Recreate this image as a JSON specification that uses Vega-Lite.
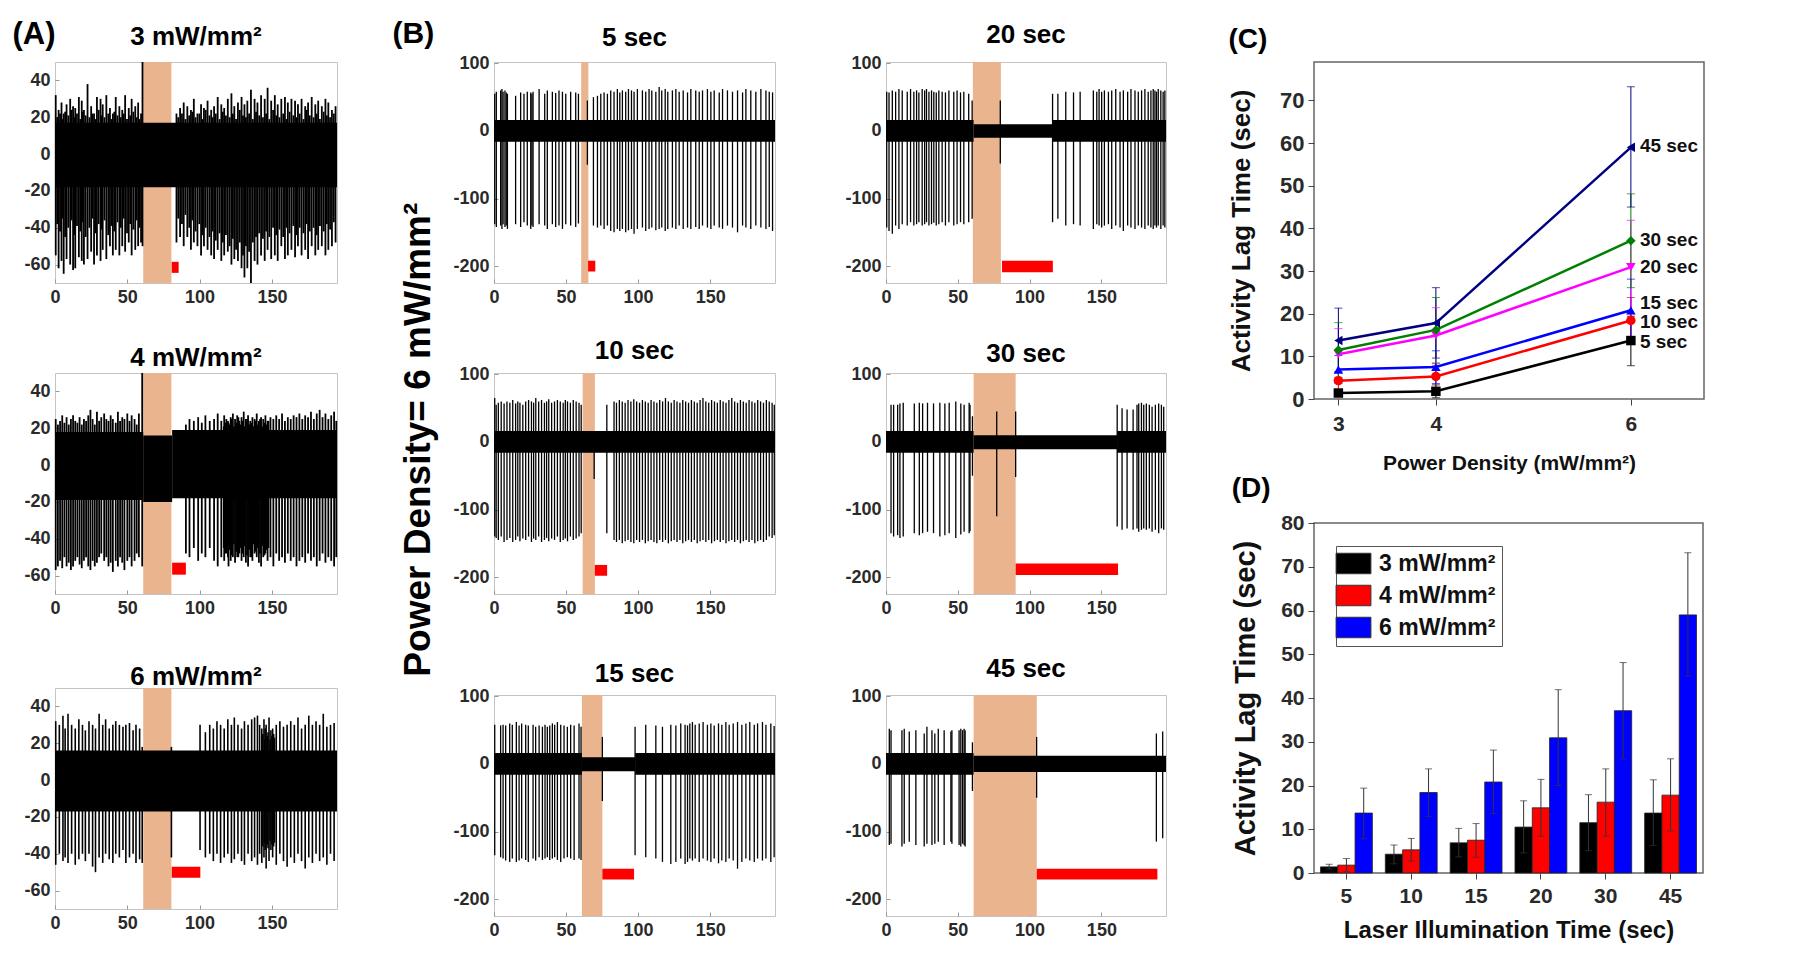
{
"$schema": "https://vega.github.io/schema/vega-lite/v6.json",
"background": "white",
"padding": {"left": 12, "top": 18, "right": 2, "bottom": 2},
"datasets": {
"lag": [
{"power":3,"dur":5,"lag":1.4,"lo":0.9,"hi":2.0},
{"power":4,"dur":5,"lag":1.8,"lo":0.3,"hi":3.3},
{"power":6,"dur":5,"lag":13.7,"lo":7.8,"hi":19.4},
{"power":3,"dur":10,"lag":4.3,"lo":2.1,"hi":6.4},
{"power":4,"dur":10,"lag":5.3,"lo":2.7,"hi":7.9},
{"power":6,"dur":10,"lag":18.4,"lo":12.9,"hi":23.8},
{"power":3,"dur":15,"lag":6.9,"lo":3.7,"hi":10.2},
{"power":4,"dur":15,"lag":7.5,"lo":3.6,"hi":11.3},
{"power":6,"dur":15,"lag":20.8,"lo":13.6,"hi":28.1},
{"power":3,"dur":20,"lag":10.5,"lo":4.6,"hi":16.5},
{"power":4,"dur":20,"lag":14.9,"lo":8.4,"hi":21.4},
{"power":6,"dur":20,"lag":30.9,"lo":20.0,"hi":41.9},
{"power":3,"dur":30,"lag":11.5,"lo":5.1,"hi":17.9},
{"power":4,"dur":30,"lag":16.2,"lo":8.4,"hi":23.8},
{"power":6,"dur":30,"lag":37.1,"lo":26.1,"hi":48.1},
{"power":3,"dur":45,"lag":13.7,"lo":6.3,"hi":21.3},
{"power":4,"dur":45,"lag":17.8,"lo":9.6,"hi":26.1},
{"power":6,"dur":45,"lag":59.0,"lo":45.0,"hi":73.2}
],
"clab": [
{"txt":"45 sec","px":6,"val":59.2},{"txt":"30 sec","px":6,"val":37.3},{"txt":"20 sec","px":6,"val":30.9},
{"txt":"15 sec","px":6,"val":22.6},{"txt":"10 sec","px":6,"val":18.1},{"txt":"5 sec","px":6,"val":13.4}
],
"s_a3": [
{"t":0.5,"lo":-55,"hi":32},{"t":2.5,"lo":-62,"hi":24},{"t":4.5,"lo":-58,"hi":28},{"t":6,"lo":-65,"hi":22},{"t":8,"lo":-57,"hi":27},{"t":10.5,"lo":-60,"hi":30},{"t":12.5,"lo":-63,"hi":26},{"t":14,"lo":-62,"hi":25},{"t":16.5,"lo":-56,"hi":31},{"t":18.5,"lo":-58,"hi":29},{"t":20,"lo":-60,"hi":24},{"t":22.5,"lo":-57,"hi":38},{"t":25,"lo":-53,"hi":26},{"t":27,"lo":-60,"hi":22},{"t":29,"lo":-55,"hi":31},{"t":31.5,"lo":-58,"hi":30},{"t":33,"lo":-52,"hi":27},{"t":35.5,"lo":-57,"hi":32},{"t":38,"lo":-50,"hi":25},{"t":40,"lo":-55,"hi":22},{"t":42,"lo":-52,"hi":31},{"t":44.5,"lo":-55,"hi":26},{"t":46.5,"lo":-50,"hi":24},{"t":48.5,"lo":-53,"hi":32},{"t":51,"lo":-48,"hi":25},{"t":53,"lo":-55,"hi":30},{"t":55.5,"lo":-52,"hi":26},{"t":57.5,"lo":-50,"hi":28},{"t":59.5,"lo":-48,"hi":22},{"t":60.5,"lo":-50,"hi":50},
{"t":1.5,"lo":-38,"hi":20},{"t":3.5,"lo":-42,"hi":22},{"t":5.2,"lo":-35,"hi":19},{"t":7,"lo":-45,"hi":23},{"t":9.2,"lo":-40,"hi":21},{"t":11.5,"lo":-36,"hi":24},{"t":13.2,"lo":-44,"hi":20},{"t":15.2,"lo":-39,"hi":22},{"t":17.5,"lo":-42,"hi":19},{"t":19.2,"lo":-37,"hi":23},{"t":21.2,"lo":-45,"hi":21},{"t":23.8,"lo":-40,"hi":20},{"t":26,"lo":-35,"hi":22},{"t":28,"lo":-43,"hi":19},{"t":30.2,"lo":-38,"hi":24},{"t":32.2,"lo":-41,"hi":21},{"t":34.2,"lo":-36,"hi":20},{"t":36.8,"lo":-44,"hi":22},{"t":39,"lo":-39,"hi":19},{"t":41,"lo":-42,"hi":23},{"t":43.2,"lo":-37,"hi":21},{"t":45.5,"lo":-40,"hi":20},{"t":47.5,"lo":-35,"hi":22},{"t":49.8,"lo":-43,"hi":19},{"t":52,"lo":-38,"hi":21},{"t":54.2,"lo":-41,"hi":23},{"t":56.5,"lo":-36,"hi":20},{"t":58.5,"lo":-40,"hi":19},
{"t":84,"lo":-48,"hi":22},{"t":86.5,"lo":-45,"hi":25},{"t":89,"lo":-50,"hi":28},{"t":91.5,"lo":-45,"hi":26},{"t":94,"lo":-52,"hi":24},{"t":96,"lo":-48,"hi":30},{"t":98.5,"lo":-50,"hi":22},{"t":101,"lo":-55,"hi":27},{"t":103,"lo":-50,"hi":25},{"t":105.5,"lo":-52,"hi":29},{"t":108,"lo":-55,"hi":24},{"t":110,"lo":-57,"hi":26},{"t":112.5,"lo":-52,"hi":31},{"t":115,"lo":-58,"hi":27},{"t":117,"lo":-55,"hi":25},{"t":119.5,"lo":-53,"hi":30},{"t":122,"lo":-60,"hi":33},{"t":124,"lo":-57,"hi":26},{"t":126.5,"lo":-58,"hi":28},{"t":129,"lo":-62,"hi":31},{"t":131,"lo":-67,"hi":27},{"t":133,"lo":-62,"hi":29},{"t":135.5,"lo":-70,"hi":35},{"t":138,"lo":-58,"hi":30},{"t":140,"lo":-60,"hi":28},{"t":142.5,"lo":-55,"hi":32},{"t":145,"lo":-58,"hi":30},{"t":147,"lo":-52,"hi":36},{"t":149.5,"lo":-57,"hi":29},{"t":152,"lo":-55,"hi":32},{"t":154,"lo":-58,"hi":27},{"t":156.5,"lo":-50,"hi":30},{"t":159,"lo":-57,"hi":31},{"t":161,"lo":-55,"hi":28},{"t":163.5,"lo":-52,"hi":30},{"t":166,"lo":-56,"hi":29},{"t":168,"lo":-50,"hi":27},{"t":170.5,"lo":-55,"hi":30},{"t":173,"lo":-52,"hi":26},{"t":175,"lo":-57,"hi":28},{"t":177.5,"lo":-50,"hi":31},{"t":180,"lo":-55,"hi":27},{"t":182,"lo":-52,"hi":29},{"t":184.5,"lo":-50,"hi":26},{"t":187,"lo":-55,"hi":30},{"t":189,"lo":-52,"hi":28},{"t":191.5,"lo":-50,"hi":24},{"t":194,"lo":-48,"hi":26},
{"t":85.2,"lo":-35,"hi":20},{"t":87.8,"lo":-38,"hi":22},{"t":90.2,"lo":-33,"hi":19},{"t":92.8,"lo":-40,"hi":21},{"t":95,"lo":-36,"hi":23},{"t":97.2,"lo":-42,"hi":20},{"t":99.8,"lo":-38,"hi":22},{"t":102,"lo":-44,"hi":19},{"t":104.2,"lo":-40,"hi":24},{"t":106.8,"lo":-45,"hi":21},{"t":109,"lo":-42,"hi":20},{"t":111.2,"lo":-47,"hi":22},{"t":113.8,"lo":-43,"hi":19},{"t":116,"lo":-48,"hi":23},{"t":118.2,"lo":-44,"hi":21},{"t":120.8,"lo":-50,"hi":20},{"t":123,"lo":-46,"hi":22},{"t":125.2,"lo":-52,"hi":19},{"t":127.8,"lo":-48,"hi":24},{"t":130,"lo":-55,"hi":21},{"t":132,"lo":-50,"hi":20},{"t":134.2,"lo":-53,"hi":22},{"t":136.8,"lo":-48,"hi":19},{"t":139,"lo":-45,"hi":23},{"t":141.2,"lo":-43,"hi":21},{"t":143.8,"lo":-46,"hi":20},{"t":146,"lo":-42,"hi":22},{"t":148.2,"lo":-45,"hi":19},{"t":150.8,"lo":-40,"hi":24},{"t":153,"lo":-44,"hi":21},{"t":155.2,"lo":-41,"hi":20},{"t":157.8,"lo":-45,"hi":22},{"t":160,"lo":-40,"hi":19},{"t":162.2,"lo":-43,"hi":23},{"t":164.8,"lo":-39,"hi":21},{"t":167,"lo":-44,"hi":20},{"t":169.2,"lo":-40,"hi":22},{"t":171.8,"lo":-43,"hi":19},{"t":174,"lo":-38,"hi":24},{"t":176.2,"lo":-42,"hi":21},{"t":178.8,"lo":-40,"hi":20},{"t":181,"lo":-44,"hi":22},{"t":183.2,"lo":-39,"hi":19},{"t":185.8,"lo":-42,"hi":23},{"t":188,"lo":-38,"hi":21},{"t":190.2,"lo":-41,"hi":20},{"t":192.8,"lo":-37,"hi":22}
],
"s_a4": [
{"t":0.5,"lo":-57,"hi":25},{"t":2,"lo":-55,"hi":22},{"t":3.5,"lo":-52,"hi":24},{"t":5,"lo":-56,"hi":27},{"t":6.5,"lo":-50,"hi":23},{"t":8,"lo":-55,"hi":26},{"t":9.5,"lo":-53,"hi":22},{"t":11,"lo":-57,"hi":25},{"t":12.5,"lo":-55,"hi":27},{"t":14,"lo":-52,"hi":24},{"t":15.5,"lo":-50,"hi":23},{"t":17,"lo":-54,"hi":26},{"t":18.5,"lo":-56,"hi":22},{"t":20,"lo":-52,"hi":25},{"t":21.5,"lo":-50,"hi":24},{"t":23,"lo":-55,"hi":27},{"t":24.5,"lo":-57,"hi":30},{"t":26,"lo":-52,"hi":25},{"t":27.5,"lo":-55,"hi":22},{"t":29,"lo":-53,"hi":29},{"t":30.5,"lo":-50,"hi":24},{"t":32,"lo":-48,"hi":26},{"t":34,"lo":-52,"hi":28},{"t":35.5,"lo":-50,"hi":25},{"t":37,"lo":-55,"hi":24},{"t":38.5,"lo":-53,"hi":27},{"t":40,"lo":-58,"hi":25},{"t":42,"lo":-52,"hi":23},{"t":43.5,"lo":-55,"hi":29},{"t":45,"lo":-50,"hi":24},{"t":46.5,"lo":-53,"hi":26},{"t":48,"lo":-57,"hi":25},{"t":50,"lo":-52,"hi":28},{"t":51.5,"lo":-50,"hi":24},{"t":53,"lo":-55,"hi":27},{"t":55,"lo":-52,"hi":25},{"t":56.5,"lo":-48,"hi":22},{"t":58,"lo":-50,"hi":28},{"t":60.3,"lo":-55,"hi":50},
{"t":90.5,"lo":-48,"hi":22},{"t":93,"lo":-50,"hi":25},{"t":96,"lo":-45,"hi":24},{"t":99,"lo":-52,"hi":26},{"t":101.5,"lo":-48,"hi":23},{"t":104,"lo":-50,"hi":27},{"t":107,"lo":-45,"hi":24},{"t":110,"lo":-52,"hi":25},{"t":112.5,"lo":-55,"hi":28},{"t":115,"lo":-50,"hi":24},{"t":117,"lo":-52,"hi":27},{"t":118.5,"lo":-48,"hi":25},{"t":120,"lo":-55,"hi":23},{"t":121.5,"lo":-52,"hi":26},{"t":123,"lo":-50,"hi":28},{"t":124.5,"lo":-53,"hi":25},{"t":126,"lo":-50,"hi":27},{"t":127.5,"lo":-48,"hi":24},{"t":129,"lo":-52,"hi":26},{"t":130.5,"lo":-50,"hi":29},{"t":132,"lo":-53,"hi":25},{"t":133.5,"lo":-55,"hi":27},{"t":135,"lo":-50,"hi":24},{"t":136.5,"lo":-52,"hi":26},{"t":138,"lo":-48,"hi":25},{"t":139.5,"lo":-50,"hi":28},{"t":141,"lo":-53,"hi":24},{"t":142.5,"lo":-55,"hi":26},{"t":144,"lo":-50,"hi":25},{"t":145.5,"lo":-48,"hi":27},{"t":147,"lo":-52,"hi":24},{"t":149,"lo":-50,"hi":26},{"t":151,"lo":-55,"hi":25},{"t":153,"lo":-48,"hi":27},{"t":155,"lo":-52,"hi":25},{"t":157,"lo":-50,"hi":28},{"t":159,"lo":-53,"hi":24},{"t":161,"lo":-48,"hi":26},{"t":163,"lo":-52,"hi":25},{"t":165,"lo":-50,"hi":27},{"t":167,"lo":-55,"hi":26},{"t":169,"lo":-52,"hi":28},{"t":171,"lo":-50,"hi":25},{"t":173,"lo":-53,"hi":27},{"t":175,"lo":-48,"hi":26},{"t":177,"lo":-52,"hi":29},{"t":179,"lo":-50,"hi":25},{"t":181,"lo":-55,"hi":28},{"t":183,"lo":-52,"hi":30},{"t":185,"lo":-48,"hi":26},{"t":187,"lo":-53,"hi":28},{"t":189,"lo":-50,"hi":25},{"t":191,"lo":-52,"hi":27},{"t":193,"lo":-55,"hi":29},{"t":194.5,"lo":-50,"hi":24},
{"t":116.7,"lo":-45,"hi":21},{"t":117.7,"lo":-48,"hi":23},{"t":118.9,"lo":-44,"hi":20},{"t":119.6,"lo":-50,"hi":24},{"t":120.8,"lo":-46,"hi":22},{"t":122.2,"lo":-49,"hi":25},{"t":123.8,"lo":-43,"hi":21},{"t":125.2,"lo":-47,"hi":23},{"t":126.8,"lo":-50,"hi":26},{"t":128.2,"lo":-45,"hi":22},{"t":129.8,"lo":-48,"hi":24},{"t":131.2,"lo":-44,"hi":21},{"t":132.8,"lo":-49,"hi":25},{"t":134.2,"lo":-46,"hi":22},{"t":135.8,"lo":-50,"hi":23},{"t":137.2,"lo":-43,"hi":21},{"t":138.8,"lo":-47,"hi":24},{"t":140.2,"lo":-45,"hi":22},{"t":141.8,"lo":-48,"hi":25},{"t":143.2,"lo":-44,"hi":21},{"t":144.8,"lo":-49,"hi":23},{"t":146.2,"lo":-46,"hi":22},{"t":147.6,"lo":-45,"hi":24}
],
"s_a6": [
{"t":0.5,"lo":-46,"hi":32},{"t":3,"lo":-40,"hi":30},{"t":5.5,"lo":-44,"hi":35},{"t":7,"lo":-42,"hi":28},{"t":9,"lo":-45,"hi":36},{"t":11.5,"lo":-40,"hi":30},{"t":14,"lo":-46,"hi":28},{"t":16.5,"lo":-43,"hi":33},{"t":19,"lo":-40,"hi":30},{"t":21,"lo":-44,"hi":27},{"t":23.5,"lo":-40,"hi":32},{"t":26,"lo":-47,"hi":30},{"t":28,"lo":-50,"hi":28},{"t":30.5,"lo":-42,"hi":36},{"t":33,"lo":-45,"hi":30},{"t":35,"lo":-40,"hi":33},{"t":37.5,"lo":-43,"hi":28},{"t":40,"lo":-45,"hi":30},{"t":42,"lo":-40,"hi":32},{"t":44.5,"lo":-42,"hi":30},{"t":47,"lo":-38,"hi":29},{"t":49,"lo":-45,"hi":30},{"t":51.5,"lo":-42,"hi":31},{"t":54,"lo":-40,"hi":27},{"t":56,"lo":-45,"hi":30},{"t":58.5,"lo":-43,"hi":28},{"t":60.3,"lo":-45,"hi":18},{"t":80.5,"lo":-42,"hi":18},
{"t":100.3,"lo":-38,"hi":30},{"t":104,"lo":-42,"hi":26},{"t":107,"lo":-40,"hi":30},{"t":109.5,"lo":-44,"hi":28},{"t":112,"lo":-40,"hi":32},{"t":114.5,"lo":-45,"hi":30},{"t":117,"lo":-42,"hi":28},{"t":119.5,"lo":-40,"hi":33},{"t":122,"lo":-45,"hi":30},{"t":124,"lo":-43,"hi":34},{"t":126.5,"lo":-40,"hi":30},{"t":129,"lo":-44,"hi":28},{"t":131,"lo":-46,"hi":32},{"t":133.5,"lo":-40,"hi":30},{"t":136,"lo":-44,"hi":33},{"t":138,"lo":-42,"hi":34},{"t":140,"lo":-46,"hi":35},{"t":141.5,"lo":-40,"hi":30},{"t":143,"lo":-45,"hi":28},{"t":144.5,"lo":-42,"hi":33},{"t":146,"lo":-48,"hi":30},{"t":148,"lo":-44,"hi":34},{"t":150.5,"lo":-42,"hi":28},{"t":153,"lo":-46,"hi":30},{"t":155.5,"lo":-40,"hi":32},{"t":158,"lo":-44,"hi":29},{"t":160.5,"lo":-47,"hi":30},{"t":163,"lo":-42,"hi":32},{"t":165.5,"lo":-45,"hi":30},{"t":168,"lo":-40,"hi":34},{"t":170.5,"lo":-44,"hi":28},{"t":173,"lo":-48,"hi":30},{"t":175.5,"lo":-42,"hi":35},{"t":178,"lo":-45,"hi":30},{"t":180.5,"lo":-40,"hi":32},{"t":183,"lo":-44,"hi":30},{"t":185.5,"lo":-42,"hi":36},{"t":188,"lo":-46,"hi":29},{"t":190.5,"lo":-40,"hi":30},{"t":193,"lo":-44,"hi":31},
{"t":143.7,"lo":-36,"hi":25},{"t":144.9,"lo":-34,"hi":22},{"t":145.3,"lo":-38,"hi":28},{"t":146.7,"lo":-35,"hi":24},{"t":147.3,"lo":-37,"hi":26},{"t":148.7,"lo":-33,"hi":22},{"t":149.3,"lo":-38,"hi":27},{"t":150,"lo":-35,"hi":24},{"t":151.2,"lo":-36,"hi":25},{"t":151.8,"lo":-34,"hi":23}
],
"s_b5": [
{"t":0.5,"lo":-138,"hi":55},{"t":1.6,"lo":-142,"hi":58},{"t":4.6,"lo":-140,"hi":60},{"t":5.5,"lo":-145,"hi":62},{"t":6.3,"lo":-138,"hi":58},{"t":7.6,"lo":-142,"hi":60},{"t":8.5,"lo":-140,"hi":57},{"t":9.3,"lo":-145,"hi":55},{"t":15,"lo":-138,"hi":52},{"t":18.5,"lo":-142,"hi":57},{"t":20.8,"lo":-135,"hi":55},{"t":23.1,"lo":-140,"hi":58},{"t":25.5,"lo":-145,"hi":57},{"t":26.3,"lo":-140,"hi":55},{"t":27.1,"lo":-142,"hi":58},{"t":31.3,"lo":-138,"hi":62},{"t":35.2,"lo":-140,"hi":55},{"t":37,"lo":-145,"hi":60},{"t":40.5,"lo":-138,"hi":58},{"t":42.8,"lo":-142,"hi":56},{"t":45.1,"lo":-140,"hi":60},{"t":47.5,"lo":-145,"hi":58},{"t":49.8,"lo":-138,"hi":55},{"t":53.2,"lo":-140,"hi":58},{"t":56.7,"lo":-142,"hi":57},{"t":58.6,"lo":-137,"hi":55},{"t":64.8,"lo":-50,"hi":45},{"t":69,"lo":-140,"hi":50},{"t":71.8,"lo":-143,"hi":52},{"t":74.1,"lo":-140,"hi":55},{"t":76.4,"lo":-145,"hi":57},{"t":78.7,"lo":-140,"hi":55},{"t":81,"lo":-148,"hi":60},{"t":83.3,"lo":-150,"hi":58},{"t":85.6,"lo":-145,"hi":62},{"t":87.3,"lo":-148,"hi":57},{"t":89.1,"lo":-145,"hi":60},{"t":91.4,"lo":-150,"hi":58},{"t":93.3,"lo":-147,"hi":62},{"t":95.4,"lo":-145,"hi":60},{"t":97.2,"lo":-152,"hi":58},{"t":99.5,"lo":-145,"hi":62},{"t":103,"lo":-143,"hi":60},{"t":105.3,"lo":-148,"hi":58},{"t":107.6,"lo":-145,"hi":62},{"t":109.5,"lo":-143,"hi":60},{"t":112.3,"lo":-147,"hi":58},{"t":114.6,"lo":-145,"hi":65},{"t":116.4,"lo":-143,"hi":60},{"t":118.8,"lo":-148,"hi":62},{"t":120.6,"lo":-145,"hi":58},{"t":123.8,"lo":-143,"hi":60},{"t":126.2,"lo":-145,"hi":62},{"t":128.5,"lo":-140,"hi":58},{"t":131.3,"lo":-145,"hi":60},{"t":134.3,"lo":-143,"hi":57},{"t":136.6,"lo":-145,"hi":62},{"t":140,"lo":-142,"hi":60},{"t":142.4,"lo":-145,"hi":58},{"t":144.7,"lo":-140,"hi":60},{"t":148.1,"lo":-143,"hi":62},{"t":150.5,"lo":-145,"hi":58},{"t":152.8,"lo":-140,"hi":60},{"t":156.3,"lo":-143,"hi":57},{"t":158.6,"lo":-145,"hi":62},{"t":162,"lo":-140,"hi":60},{"t":165.5,"lo":-143,"hi":58},{"t":169,"lo":-150,"hi":60},{"t":172.5,"lo":-140,"hi":57},{"t":174.8,"lo":-143,"hi":62},{"t":178.2,"lo":-145,"hi":60},{"t":181.7,"lo":-140,"hi":58},{"t":185.2,"lo":-143,"hi":62},{"t":188.7,"lo":-145,"hi":60},{"t":191,"lo":-142,"hi":58},{"t":193.3,"lo":-148,"hi":57}
],
"s_b10": [
{"t":0.5,"lo":-140,"hi":65},{"t":1.5,"lo":-142,"hi":55},{"t":3,"lo":-145,"hi":58},{"t":5,"lo":-140,"hi":60},{"t":7,"lo":-148,"hi":57},{"t":9,"lo":-145,"hi":60},{"t":11,"lo":-142,"hi":58},{"t":13,"lo":-148,"hi":62},{"t":15,"lo":-145,"hi":57},{"t":16.5,"lo":-140,"hi":60},{"t":18,"lo":-147,"hi":58},{"t":20,"lo":-143,"hi":55},{"t":22,"lo":-145,"hi":60},{"t":24,"lo":-140,"hi":62},{"t":26,"lo":-148,"hi":60},{"t":27.5,"lo":-143,"hi":58},{"t":29,"lo":-145,"hi":65},{"t":31,"lo":-140,"hi":60},{"t":33,"lo":-148,"hi":62},{"t":35,"lo":-145,"hi":58},{"t":36.5,"lo":-142,"hi":60},{"t":38,"lo":-147,"hi":63},{"t":40,"lo":-143,"hi":58},{"t":42,"lo":-145,"hi":60},{"t":44,"lo":-140,"hi":62},{"t":46,"lo":-148,"hi":60},{"t":48,"lo":-145,"hi":58},{"t":49.5,"lo":-143,"hi":62},{"t":51,"lo":-147,"hi":60},{"t":53,"lo":-140,"hi":58},{"t":55,"lo":-145,"hi":62},{"t":57,"lo":-143,"hi":60},{"t":59,"lo":-140,"hi":58},{"t":60.5,"lo":-135,"hi":55},{"t":69.5,"lo":-55,"hi":15},
{"t":78.3,"lo":-135,"hi":55},{"t":83.3,"lo":-145,"hi":60},{"t":85,"lo":-148,"hi":58},{"t":87,"lo":-145,"hi":62},{"t":89,"lo":-150,"hi":60},{"t":91,"lo":-147,"hi":58},{"t":93,"lo":-145,"hi":62},{"t":95,"lo":-148,"hi":60},{"t":97,"lo":-150,"hi":63},{"t":99,"lo":-145,"hi":60},{"t":101,"lo":-148,"hi":58},{"t":103,"lo":-145,"hi":62},{"t":105,"lo":-150,"hi":60},{"t":107,"lo":-147,"hi":58},{"t":109,"lo":-145,"hi":62},{"t":111,"lo":-148,"hi":60},{"t":113,"lo":-150,"hi":58},{"t":115,"lo":-145,"hi":62},{"t":117,"lo":-148,"hi":60},{"t":119,"lo":-145,"hi":65},{"t":121,"lo":-150,"hi":60},{"t":123,"lo":-147,"hi":58},{"t":125,"lo":-145,"hi":62},{"t":127,"lo":-148,"hi":60},{"t":129,"lo":-145,"hi":58},{"t":131,"lo":-150,"hi":62},{"t":133,"lo":-147,"hi":60},{"t":135,"lo":-145,"hi":58},{"t":137,"lo":-148,"hi":62},{"t":139,"lo":-145,"hi":60},{"t":141,"lo":-150,"hi":58},{"t":143,"lo":-147,"hi":62},{"t":145,"lo":-145,"hi":65},{"t":147,"lo":-148,"hi":60},{"t":149,"lo":-145,"hi":58},{"t":151,"lo":-150,"hi":62},{"t":153,"lo":-147,"hi":60},{"t":155,"lo":-145,"hi":58},{"t":157,"lo":-148,"hi":62},{"t":159,"lo":-145,"hi":60},{"t":161,"lo":-150,"hi":58},{"t":163,"lo":-147,"hi":62},{"t":165,"lo":-145,"hi":65},{"t":167,"lo":-148,"hi":60},{"t":169,"lo":-145,"hi":58},{"t":171,"lo":-150,"hi":62},{"t":173,"lo":-147,"hi":60},{"t":175,"lo":-145,"hi":58},{"t":177,"lo":-148,"hi":62},{"t":179,"lo":-145,"hi":60},{"t":181,"lo":-150,"hi":58},{"t":183,"lo":-147,"hi":62},{"t":185,"lo":-145,"hi":60},{"t":187,"lo":-148,"hi":58},{"t":189,"lo":-145,"hi":62},{"t":191,"lo":-140,"hi":60},{"t":193,"lo":-142,"hi":58},{"t":194.5,"lo":-138,"hi":55}
],
"s_b15": [
{"t":0.5,"lo":-135,"hi":58},{"t":4.6,"lo":-138,"hi":57},{"t":6.3,"lo":-140,"hi":58},{"t":8.1,"lo":-143,"hi":57},{"t":10.9,"lo":-145,"hi":60},{"t":12.7,"lo":-140,"hi":58},{"t":15.5,"lo":-145,"hi":62},{"t":17.4,"lo":-143,"hi":57},{"t":19.2,"lo":-140,"hi":60},{"t":22,"lo":-142,"hi":58},{"t":23.8,"lo":-145,"hi":57},{"t":27.1,"lo":-140,"hi":58},{"t":28.9,"lo":-143,"hi":55},{"t":31.3,"lo":-138,"hi":57},{"t":33.6,"lo":-142,"hi":55},{"t":35.4,"lo":-140,"hi":58},{"t":37,"lo":-138,"hi":55},{"t":38.7,"lo":-142,"hi":57},{"t":40.5,"lo":-140,"hi":60},{"t":42.1,"lo":-138,"hi":58},{"t":44,"lo":-142,"hi":62},{"t":46.3,"lo":-145,"hi":58},{"t":48.6,"lo":-140,"hi":57},{"t":50.9,"lo":-138,"hi":55},{"t":53.2,"lo":-140,"hi":58},{"t":55.6,"lo":-142,"hi":57},{"t":59,"lo":-140,"hi":60},{"t":60.4,"lo":-142,"hi":55},{"t":75.2,"lo":-55,"hi":40},
{"t":97.9,"lo":-135,"hi":55},{"t":105.3,"lo":-138,"hi":58},{"t":112.3,"lo":-140,"hi":57},{"t":116.9,"lo":-145,"hi":55},{"t":122.7,"lo":-148,"hi":58},{"t":126.2,"lo":-145,"hi":57},{"t":129.6,"lo":-140,"hi":60},{"t":132.6,"lo":-148,"hi":58},{"t":134.3,"lo":-145,"hi":57},{"t":135.9,"lo":-140,"hi":60},{"t":137.7,"lo":-143,"hi":62},{"t":139.6,"lo":-140,"hi":58},{"t":142.4,"lo":-145,"hi":60},{"t":145.1,"lo":-140,"hi":62},{"t":148.1,"lo":-143,"hi":58},{"t":150.5,"lo":-145,"hi":60},{"t":152.8,"lo":-140,"hi":57},{"t":155.8,"lo":-147,"hi":60},{"t":158.1,"lo":-143,"hi":58},{"t":160.9,"lo":-145,"hi":62},{"t":163.2,"lo":-140,"hi":58},{"t":166,"lo":-143,"hi":60},{"t":169,"lo":-155,"hi":62},{"t":172,"lo":-145,"hi":58},{"t":174.8,"lo":-140,"hi":60},{"t":177.5,"lo":-143,"hi":62},{"t":180.6,"lo":-145,"hi":58},{"t":182.9,"lo":-140,"hi":60},{"t":186.3,"lo":-143,"hi":62},{"t":188.7,"lo":-140,"hi":58},{"t":192.1,"lo":-145,"hi":60},{"t":194.4,"lo":-138,"hi":56}
],
"s_b20": [
{"t":0.5,"lo":-143,"hi":58},{"t":2.1,"lo":-148,"hi":57},{"t":4.4,"lo":-152,"hi":60},{"t":6.7,"lo":-140,"hi":58},{"t":9,"lo":-145,"hi":62},{"t":11.3,"lo":-138,"hi":60},{"t":14.8,"lo":-140,"hi":58},{"t":17.1,"lo":-135,"hi":62},{"t":19.4,"lo":-140,"hi":58},{"t":21.3,"lo":-138,"hi":60},{"t":22.9,"lo":-135,"hi":57},{"t":25.2,"lo":-140,"hi":62},{"t":26.9,"lo":-138,"hi":60},{"t":28.2,"lo":-135,"hi":62},{"t":29.9,"lo":-140,"hi":58},{"t":31.7,"lo":-138,"hi":60},{"t":33.3,"lo":-136,"hi":58},{"t":35,"lo":-140,"hi":57},{"t":36.8,"lo":-138,"hi":60},{"t":39.1,"lo":-135,"hi":58},{"t":41.4,"lo":-140,"hi":57},{"t":43.8,"lo":-135,"hi":60},{"t":47.2,"lo":-140,"hi":58},{"t":49.5,"lo":-138,"hi":60},{"t":51.9,"lo":-135,"hi":57},{"t":54.2,"lo":-138,"hi":58},{"t":57.6,"lo":-135,"hi":55},{"t":60,"lo":-130,"hi":45},{"t":79.6,"lo":-48,"hi":45},
{"t":116,"lo":-135,"hi":55},{"t":119.7,"lo":-130,"hi":55},{"t":125.2,"lo":-140,"hi":58},{"t":130.6,"lo":-138,"hi":57},{"t":135.2,"lo":-140,"hi":58},{"t":144.4,"lo":-145,"hi":60},{"t":146.8,"lo":-138,"hi":58},{"t":148.4,"lo":-140,"hi":62},{"t":150.2,"lo":-143,"hi":58},{"t":152.1,"lo":-140,"hi":60},{"t":154.9,"lo":-138,"hi":58},{"t":157.2,"lo":-145,"hi":60},{"t":160,"lo":-140,"hi":62},{"t":163,"lo":-143,"hi":58},{"t":165.3,"lo":-148,"hi":60},{"t":168.3,"lo":-140,"hi":58},{"t":170.6,"lo":-143,"hi":62},{"t":173.4,"lo":-145,"hi":60},{"t":175.7,"lo":-140,"hi":58},{"t":178,"lo":-143,"hi":60},{"t":180.3,"lo":-145,"hi":62},{"t":182.6,"lo":-140,"hi":58},{"t":184.5,"lo":-143,"hi":60},{"t":186.1,"lo":-145,"hi":62},{"t":187.3,"lo":-140,"hi":60},{"t":188.4,"lo":-143,"hi":58},{"t":189.6,"lo":-140,"hi":62},{"t":191.4,"lo":-145,"hi":60},{"t":193,"lo":-140,"hi":58},{"t":194.2,"lo":-143,"hi":60}
],
"s_b30": [
{"t":3.5,"lo":-135,"hi":55},{"t":5.3,"lo":-140,"hi":55},{"t":8.1,"lo":-138,"hi":55},{"t":9.7,"lo":-142,"hi":57},{"t":12,"lo":-140,"hi":58},{"t":19.7,"lo":-135,"hi":57},{"t":23.2,"lo":-138,"hi":58},{"t":25.5,"lo":-135,"hi":57},{"t":28.9,"lo":-133,"hi":58},{"t":33.1,"lo":-135,"hi":57},{"t":37.5,"lo":-140,"hi":58},{"t":41,"lo":-138,"hi":57},{"t":44,"lo":-135,"hi":58},{"t":48.6,"lo":-142,"hi":60},{"t":52.1,"lo":-137,"hi":57},{"t":54.4,"lo":-133,"hi":55},{"t":57.9,"lo":-135,"hi":58},{"t":58.5,"lo":-132,"hi":55},{"t":60.2,"lo":-50,"hi":38},{"t":77.1,"lo":-110,"hi":45},{"t":90.3,"lo":-52,"hi":45},
{"t":161,"lo":-125,"hi":55},{"t":164.4,"lo":-130,"hi":50},{"t":167.9,"lo":-128,"hi":48},{"t":172.1,"lo":-130,"hi":48},{"t":174.8,"lo":-128,"hi":55},{"t":176,"lo":-133,"hi":57},{"t":177.9,"lo":-130,"hi":58},{"t":179.5,"lo":-128,"hi":55},{"t":181.3,"lo":-130,"hi":57},{"t":183.4,"lo":-128,"hi":55},{"t":185.3,"lo":-133,"hi":52},{"t":187.6,"lo":-130,"hi":55},{"t":189.9,"lo":-135,"hi":57},{"t":191.8,"lo":-128,"hi":55},{"t":193.4,"lo":-130,"hi":52}
],
"s_b45": [
{"t":2.3,"lo":-120,"hi":52},{"t":3.5,"lo":-118,"hi":50},{"t":11.1,"lo":-122,"hi":50},{"t":12.7,"lo":-118,"hi":52},{"t":16.2,"lo":-115,"hi":48},{"t":20.8,"lo":-120,"hi":50},{"t":26.6,"lo":-122,"hi":45},{"t":28.5,"lo":-118,"hi":55},{"t":32,"lo":-120,"hi":50},{"t":34,"lo":-118,"hi":45},{"t":36.4,"lo":-115,"hi":52},{"t":40.5,"lo":-120,"hi":50},{"t":45.2,"lo":-115,"hi":48},{"t":45.9,"lo":-118,"hi":50},{"t":50.9,"lo":-120,"hi":50},{"t":52.1,"lo":-122,"hi":52},{"t":53.3,"lo":-118,"hi":50},{"t":54.4,"lo":-120,"hi":52},{"t":55.1,"lo":-122,"hi":50},{"t":60.2,"lo":-40,"hi":32},{"t":104.9,"lo":-50,"hi":40},{"t":188.3,"lo":-115,"hi":45},{"t":192.7,"lo":-110,"hi":48}
]
},
"spacing": 60,
"hconcat": [
{
"spacing": 54,
"hconcat": [
{
"title": {"text": "(A)", "anchor": "start", "frame": "bounds", "fontSize": 31, "offset": -27, "dx": -11},
"spacing": 37,
"vconcat": [
{"width": 282, "height": 221, "title": {"text": "3 mW/mm²", "offset": 11},
"layer": [
{"data": {"values": [{"t0": 61, "t1": 80.5}]}, "mark": {"type": "rect", "color": "#e9b48e"}, "encoding": {"x": {"field": "t0", "type": "quantitative", "scale": {"domain": [0, 195], "nice": false, "zero": false}, "axis": {"values": [0, 50, 100, 150], "title": null}}, "x2": {"field": "t1"}}},
{"data": {"values": [{"t0": 0, "t1": 195, "lo": -18, "hi": 17}]}, "mark": {"type": "rect", "color": "black"}, "encoding": {"x": {"field": "t0", "type": "quantitative"}, "x2": {"field": "t1"}, "y": {"field": "lo", "type": "quantitative", "scale": {"domain": [-70, 50], "nice": false, "zero": false}, "axis": {"values": [-60, -40, -20, 0, 20, 40], "title": null}}, "y2": {"field": "hi"}}},
{"data": {"name": "s_a3"}, "mark": {"type": "rule", "color": "black", "strokeWidth": 1.8}, "encoding": {"x": {"field": "t", "type": "quantitative"}, "y": {"field": "lo", "type": "quantitative"}, "y2": {"field": "hi"}}},
{"data": {"values": [{"t0": 80.7, "t1": 85.5, "lo": -64.5, "hi": -58.5}]}, "mark": {"type": "rect", "color": "#ff0000"}, "encoding": {"x": {"field": "t0", "type": "quantitative"}, "x2": {"field": "t1"}, "y": {"field": "lo", "type": "quantitative"}, "y2": {"field": "hi"}}}
]},
{"spacing": 45, "vconcat": [
{"width": 282, "height": 221, "title": {"text": "4 mW/mm²", "offset": 1},
"layer": [
{"data": {"values": [{"t0": 61, "t1": 80.5}]}, "mark": {"type": "rect", "color": "#e9b48e"}, "encoding": {"x": {"field": "t0", "type": "quantitative", "scale": {"domain": [0, 195], "nice": false, "zero": false}, "axis": {"values": [0, 50, 100, 150], "title": null}}, "x2": {"field": "t1"}}},
{"data": {"values": [{"t0": 0, "t1": 61, "lo": -19, "hi": 18}, {"t0": 61, "t1": 81, "lo": -20, "hi": 16}, {"t0": 81, "t1": 195, "lo": -18, "hi": 19}]}, "mark": {"type": "rect", "color": "black"}, "encoding": {"x": {"field": "t0", "type": "quantitative"}, "x2": {"field": "t1"}, "y": {"field": "lo", "type": "quantitative", "scale": {"domain": [-70, 50], "nice": false, "zero": false}, "axis": {"values": [-60, -40, -20, 0, 20, 40], "title": null}}, "y2": {"field": "hi"}}},
{"data": {"name": "s_a4"}, "mark": {"type": "rule", "color": "black", "strokeWidth": 1.8}, "encoding": {"x": {"field": "t", "type": "quantitative"}, "y": {"field": "lo", "type": "quantitative"}, "y2": {"field": "hi"}}},
{"data": {"values": [{"t0": 81, "t1": 90.5, "lo": -59.5, "hi": -53}]}, "mark": {"type": "rect", "color": "#ff0000"}, "encoding": {"x": {"field": "t0", "type": "quantitative"}, "x2": {"field": "t1"}, "y": {"field": "lo", "type": "quantitative"}, "y2": {"field": "hi"}}}
]},
{"width": 282, "height": 221, "title": {"text": "6 mW/mm²", "offset": -2},
"layer": [
{"data": {"values": [{"t0": 61, "t1": 80.5}]}, "mark": {"type": "rect", "color": "#e9b48e"}, "encoding": {"x": {"field": "t0", "type": "quantitative", "scale": {"domain": [0, 195], "nice": false, "zero": false}, "axis": {"values": [0, 50, 100, 150], "title": null}}, "x2": {"field": "t1"}}},
{"data": {"values": [{"t0": 0, "t1": 195, "lo": -17, "hi": 16}]}, "mark": {"type": "rect", "color": "black"}, "encoding": {"x": {"field": "t0", "type": "quantitative"}, "x2": {"field": "t1"}, "y": {"field": "lo", "type": "quantitative", "scale": {"domain": [-70, 50], "nice": false, "zero": false}, "axis": {"values": [-60, -40, -20, 0, 20, 40], "title": null}}, "y2": {"field": "hi"}}},
{"data": {"name": "s_a6"}, "mark": {"type": "rule", "color": "black", "strokeWidth": 1.6}, "encoding": {"x": {"field": "t", "type": "quantitative"}, "y": {"field": "lo", "type": "quantitative"}, "y2": {"field": "hi"}}},
{"data": {"values": [{"t0": 80.7, "t1": 100.5, "lo": -53, "hi": -47}]}, "mark": {"type": "rect", "color": "#ff0000"}, "encoding": {"x": {"field": "t0", "type": "quantitative"}, "x2": {"field": "t1"}, "y": {"field": "lo", "type": "quantitative"}, "y2": {"field": "hi"}}}
]}
]}
]
},
{
"title": {"text": "(B)", "anchor": "start", "frame": "bounds", "fontSize": 30, "offset": -27, "dx": -8},
"vconcat": [
{
"title": {"text": "Power Density= 6 mW/mm²", "orient": "left", "anchor": "middle", "fontSize": 37, "offset": 14, "dx": 41},
"spacing": 30,
"vconcat": [
{"spacing": 68, "hconcat": [
{"width": 281, "height": 221, "title": {"text": "5 sec", "offset": 3},
"layer": [
{"data": {"values": [{"t0": 60.5, "t1": 65.5}]}, "mark": {"type": "rect", "color": "#e9b48e"}, "encoding": {"x": {"field": "t0", "type": "quantitative", "scale": {"domain": [0, 195], "nice": false, "zero": false}, "axis": {"values": [0, 50, 100, 150], "title": null}}, "x2": {"field": "t1"}}},
{"data": {"values": [{"t0": 0, "t1": 195, "lo": -16, "hi": 16}]}, "mark": {"type": "rect", "color": "black"}, "encoding": {"x": {"field": "t0", "type": "quantitative"}, "x2": {"field": "t1"}, "y": {"field": "lo", "type": "quantitative", "scale": {"domain": [-225, 102], "nice": false, "zero": false}, "axis": {"values": [-200, -100, 0, 100], "title": null}}, "y2": {"field": "hi"}}},
{"data": {"name": "s_b5"}, "mark": {"type": "rule", "color": "black", "strokeWidth": 1.3}, "encoding": {"x": {"field": "t", "type": "quantitative"}, "y": {"field": "lo", "type": "quantitative"}, "y2": {"field": "hi"}}},
{"data": {"values": [{"t0": 65.3, "t1": 70.3, "lo": -208, "hi": -192}]}, "mark": {"type": "rect", "color": "#ff0000"}, "encoding": {"x": {"field": "t0", "type": "quantitative"}, "x2": {"field": "t1"}, "y": {"field": "lo", "type": "quantitative"}, "y2": {"field": "hi"}}}
]},
{"width": 280, "height": 221, "title": {"text": "20 sec", "offset": 6},
"layer": [
{"data": {"values": [{"t0": 60.5, "t1": 80}]}, "mark": {"type": "rect", "color": "#e9b48e"}, "encoding": {"x": {"field": "t0", "type": "quantitative", "scale": {"domain": [0, 195], "nice": false, "zero": false}, "axis": {"values": [0, 50, 100, 150], "title": null}}, "x2": {"field": "t1"}}},
{"data": {"values": [{"t0": 0, "t1": 61, "lo": -16, "hi": 16}, {"t0": 61, "t1": 116, "lo": -10, "hi": 10}, {"t0": 116, "t1": 195, "lo": -16, "hi": 16}]}, "mark": {"type": "rect", "color": "black"}, "encoding": {"x": {"field": "t0", "type": "quantitative"}, "x2": {"field": "t1"}, "y": {"field": "lo", "type": "quantitative", "scale": {"domain": [-225, 102], "nice": false, "zero": false}, "axis": {"values": [-200, -100, 0, 100], "title": null}}, "y2": {"field": "hi"}}},
{"data": {"name": "s_b20"}, "mark": {"type": "rule", "color": "black", "strokeWidth": 1.3}, "encoding": {"x": {"field": "t", "type": "quantitative"}, "y": {"field": "lo", "type": "quantitative"}, "y2": {"field": "hi"}}},
{"data": {"values": [{"t0": 80.8, "t1": 116.2, "lo": -209, "hi": -192}]}, "mark": {"type": "rect", "color": "#ff0000"}, "encoding": {"x": {"field": "t0", "type": "quantitative"}, "x2": {"field": "t1"}, "y": {"field": "lo", "type": "quantitative"}, "y2": {"field": "hi"}}}
]}
]},
{"spacing": 37, "vconcat": [
{"spacing": 68, "hconcat": [
{"width": 281, "height": 221, "title": {"text": "10 sec", "offset": 1},
"layer": [
{"data": {"values": [{"t0": 61.5, "t1": 70}]}, "mark": {"type": "rect", "color": "#e9b48e"}, "encoding": {"x": {"field": "t0", "type": "quantitative", "scale": {"domain": [0, 195], "nice": false, "zero": false}, "axis": {"values": [0, 50, 100, 150], "title": null}}, "x2": {"field": "t1"}}},
{"data": {"values": [{"t0": 0, "t1": 195, "lo": -16, "hi": 16}]}, "mark": {"type": "rect", "color": "black"}, "encoding": {"x": {"field": "t0", "type": "quantitative"}, "x2": {"field": "t1"}, "y": {"field": "lo", "type": "quantitative", "scale": {"domain": [-225, 102], "nice": false, "zero": false}, "axis": {"values": [-200, -100, 0, 100], "title": null}}, "y2": {"field": "hi"}}},
{"data": {"name": "s_b10"}, "mark": {"type": "rule", "color": "black", "strokeWidth": 1.3}, "encoding": {"x": {"field": "t", "type": "quantitative"}, "y": {"field": "lo", "type": "quantitative"}, "y2": {"field": "hi"}}},
{"data": {"values": [{"t0": 70, "t1": 78.5, "lo": -198, "hi": -182}]}, "mark": {"type": "rect", "color": "#ff0000"}, "encoding": {"x": {"field": "t0", "type": "quantitative"}, "x2": {"field": "t1"}, "y": {"field": "lo", "type": "quantitative"}, "y2": {"field": "hi"}}}
]},
{"width": 280, "height": 221, "title": {"text": "30 sec", "offset": -2},
"layer": [
{"data": {"values": [{"t0": 61, "t1": 90.3}]}, "mark": {"type": "rect", "color": "#e9b48e"}, "encoding": {"x": {"field": "t0", "type": "quantitative", "scale": {"domain": [0, 195], "nice": false, "zero": false}, "axis": {"values": [0, 50, 100, 150], "title": null}}, "x2": {"field": "t1"}}},
{"data": {"values": [{"t0": 0, "t1": 61, "lo": -16, "hi": 16}, {"t0": 61, "t1": 161, "lo": -11, "hi": 10}, {"t0": 161, "t1": 195, "lo": -16, "hi": 16}]}, "mark": {"type": "rect", "color": "black"}, "encoding": {"x": {"field": "t0", "type": "quantitative"}, "x2": {"field": "t1"}, "y": {"field": "lo", "type": "quantitative", "scale": {"domain": [-225, 102], "nice": false, "zero": false}, "axis": {"values": [-200, -100, 0, 100], "title": null}}, "y2": {"field": "hi"}}},
{"data": {"name": "s_b30"}, "mark": {"type": "rule", "color": "black", "strokeWidth": 1.3}, "encoding": {"x": {"field": "t", "type": "quantitative"}, "y": {"field": "lo", "type": "quantitative"}, "y2": {"field": "hi"}}},
{"data": {"values": [{"t0": 90.3, "t1": 161.6, "lo": -197, "hi": -180}]}, "mark": {"type": "rect", "color": "#ff0000"}, "encoding": {"x": {"field": "t0", "type": "quantitative"}, "x2": {"field": "t1"}, "y": {"field": "lo", "type": "quantitative"}, "y2": {"field": "hi"}}}
]}
]},
{"spacing": 68, "hconcat": [
{"width": 281, "height": 221, "title": {"text": "15 sec", "offset": 0},
"layer": [
{"data": {"values": [{"t0": 61, "t1": 75.2}]}, "mark": {"type": "rect", "color": "#e9b48e"}, "encoding": {"x": {"field": "t0", "type": "quantitative", "scale": {"domain": [0, 195], "nice": false, "zero": false}, "axis": {"values": [0, 50, 100, 150], "title": null}}, "x2": {"field": "t1"}}},
{"data": {"values": [{"t0": 0, "t1": 61, "lo": -16, "hi": 16}, {"t0": 61, "t1": 98, "lo": -11, "hi": 10}, {"t0": 98, "t1": 195, "lo": -16, "hi": 16}]}, "mark": {"type": "rect", "color": "black"}, "encoding": {"x": {"field": "t0", "type": "quantitative"}, "x2": {"field": "t1"}, "y": {"field": "lo", "type": "quantitative", "scale": {"domain": [-225, 102], "nice": false, "zero": false}, "axis": {"values": [-200, -100, 0, 100], "title": null}}, "y2": {"field": "hi"}}},
{"data": {"name": "s_b15"}, "mark": {"type": "rule", "color": "black", "strokeWidth": 1.3}, "encoding": {"x": {"field": "t", "type": "quantitative"}, "y": {"field": "lo", "type": "quantitative"}, "y2": {"field": "hi"}}},
{"data": {"values": [{"t0": 75.2, "t1": 97.2, "lo": -171, "hi": -155}]}, "mark": {"type": "rect", "color": "#ff0000"}, "encoding": {"x": {"field": "t0", "type": "quantitative"}, "x2": {"field": "t1"}, "y": {"field": "lo", "type": "quantitative"}, "y2": {"field": "hi"}}}
]},
{"width": 280, "height": 221, "title": {"text": "45 sec", "offset": 5},
"layer": [
{"data": {"values": [{"t0": 61, "t1": 105}]}, "mark": {"type": "rect", "color": "#e9b48e"}, "encoding": {"x": {"field": "t0", "type": "quantitative", "scale": {"domain": [0, 195], "nice": false, "zero": false}, "axis": {"values": [0, 50, 100, 150], "title": null}}, "x2": {"field": "t1"}}},
{"data": {"values": [{"t0": 0, "t1": 61, "lo": -16, "hi": 16}, {"t0": 61, "t1": 195, "lo": -12, "hi": 12}]}, "mark": {"type": "rect", "color": "black"}, "encoding": {"x": {"field": "t0", "type": "quantitative"}, "x2": {"field": "t1"}, "y": {"field": "lo", "type": "quantitative", "scale": {"domain": [-225, 102], "nice": false, "zero": false}, "axis": {"values": [-200, -100, 0, 100], "title": null}}, "y2": {"field": "hi"}}},
{"data": {"name": "s_b45"}, "mark": {"type": "rule", "color": "black", "strokeWidth": 1.3}, "encoding": {"x": {"field": "t", "type": "quantitative"}, "y": {"field": "lo", "type": "quantitative"}, "y2": {"field": "hi"}}},
{"data": {"values": [{"t0": 105, "t1": 189, "lo": -171, "hi": -155}]}, "mark": {"type": "rect", "color": "#ff0000"}, "encoding": {"x": {"field": "t0", "type": "quantitative"}, "x2": {"field": "t1"}, "y": {"field": "lo", "type": "quantitative"}, "y2": {"field": "hi"}}}
]}
]}
]}
]
}
]
}
]
},
{
"spacing": 0,
"resolve": {"scale": {"color": "independent", "shape": "independent"}},
"vconcat": [
{
"width": 390, "height": 337,
"title": {"text": "(C)", "anchor": "start", "frame": "bounds", "fontSize": 28, "offset": 8},
"view": {"stroke": "#666", "strokeWidth": 1.5},
"layer": [
{"data": {"name": "lag"}, "mark": {"type": "rule", "strokeWidth": 1}, "encoding": {
"x": {"field": "power", "type": "quantitative", "scale": {"domain": [2.75, 6.75], "nice": false, "zero": false}, "axis": {"values": [3, 4, 6], "title": "Power Density (mW/mm²)", "labelFontSize": 21, "titleFontSize": 21, "titleFontWeight": "bold", "titlePadding": 18, "tickSize": 6, "tickColor": "#444", "labelPadding": 8}},
"y": {"field": "lo", "type": "quantitative", "scale": {"domain": [0, 79], "nice": false, "zero": false}, "axis": {"values": [0, 10, 20, 30, 40, 50, 60, 70], "title": "Activity Lag Time (sec)", "labelFontSize": 22, "titleFontSize": 26, "titleFontWeight": "bold", "titlePadding": 25, "tickSize": 6, "tickColor": "#444", "labelPadding": 4}},
"y2": {"field": "hi"},
"color": {"field": "dur", "type": "nominal", "scale": {"domain": [5, 10, 15, 20, 30, 45], "range": ["#000000", "#ff0000", "#0000ff", "#ff00ff", "#008000", "#000080"]}, "legend": null}}},
{"data": {"name": "lag"}, "mark": {"type": "tick", "orient": "horizontal", "size": 8, "thickness": 1}, "encoding": {"x": {"field": "power", "type": "quantitative"}, "y": {"field": "hi", "type": "quantitative"}, "color": {"field": "dur", "type": "nominal"}}},
{"data": {"name": "lag"}, "mark": {"type": "tick", "orient": "horizontal", "size": 8, "thickness": 1}, "encoding": {"x": {"field": "power", "type": "quantitative"}, "y": {"field": "lo", "type": "quantitative"}, "color": {"field": "dur", "type": "nominal"}}},
{"data": {"name": "lag"}, "mark": {"type": "line", "strokeWidth": 2.5}, "encoding": {"x": {"field": "power", "type": "quantitative"}, "y": {"field": "lag", "type": "quantitative"}, "color": {"field": "dur", "type": "nominal"}}},
{"data": {"name": "lag"}, "mark": {"type": "point", "filled": true, "size": 90, "opacity": 1}, "encoding": {"x": {"field": "power", "type": "quantitative"}, "y": {"field": "lag", "type": "quantitative"}, "color": {"field": "dur", "type": "nominal"}, "shape": {"field": "dur", "type": "nominal", "scale": {"domain": [5, 10, 15, 20, 30, 45], "range": ["square", "circle", "triangle-up", "triangle-down", "diamond", "triangle-left"]}, "legend": null}}},
{"data": {"name": "clab"}, "mark": {"type": "text", "align": "left", "baseline": "middle", "dx": 9, "fontSize": 19, "fontWeight": "bold", "font": "Liberation Sans", "color": "#111111"}, "encoding": {"x": {"field": "px", "type": "quantitative"}, "y": {"field": "val", "type": "quantitative"}, "text": {"field": "txt", "type": "nominal"}}}
]
},
{
"width": 389, "height": 350,
"title": {"text": "(D)", "anchor": "start", "frame": "bounds", "fontSize": 28, "offset": 9},
"view": {"stroke": "#666", "strokeWidth": 1.5},
"data": {"name": "lag"},
"encoding": {
"x": {"field": "dur", "type": "ordinal", "scale": {"paddingInner": 0.2, "paddingOuter": 0.1}, "axis": {"labelAngle": 0, "title": "Laser Illumination Time (sec)", "labelFontSize": 21, "titleFontSize": 24, "titleFontWeight": "bold", "titlePadding": 12, "tickSize": 6, "tickColor": "#444", "labelPadding": 6}},
"xOffset": {"field": "power", "type": "nominal", "scale": {"domain": [3, 4, 6]}}
},
"layer": [
{"mark": {"type": "bar", "stroke": "#222", "strokeWidth": 0.8}, "encoding": {
"y": {"field": "lag", "type": "quantitative", "scale": {"domain": [0, 80], "nice": false, "zero": false}, "axis": {"values": [0, 10, 20, 30, 40, 50, 60, 70, 80], "title": "Activity Lag Time (sec)", "labelFontSize": 21, "titleFontSize": 29, "titleFontWeight": "bold", "titlePadding": 20, "tickSize": 6, "tickColor": "#444", "labelPadding": 4}},
"color": {"field": "power", "type": "nominal", "scale": {"domain": [3, 4, 6], "range": ["#000000", "#ff0000", "#0000ff"]}, "legend": {"orient": "none", "legendX": 22, "legendY": 23, "title": null, "labelExpr": "datum.label + ' mW/mm²'", "labelFontSize": 23, "labelFontWeight": "bold", "labelFont": "Liberation Sans", "labelColor": "#111", "symbolType": "M-1.7,-1H1.7V1H-1.7Z", "symbolSize": 420, "symbolStrokeColor": "#333", "symbolStrokeWidth": 1, "symbolOpacity": 1, "strokeColor": "#555", "fillColor": "white", "padding": 6, "rowPadding": 7, "labelOffset": 14}}
}},
{"mark": {"type": "rule", "color": "#333", "strokeWidth": 1}, "encoding": {"y": {"field": "lo", "type": "quantitative"}, "y2": {"field": "hi"}}},
{"mark": {"type": "tick", "color": "#333", "size": 7, "thickness": 1}, "encoding": {"y": {"field": "hi", "type": "quantitative"}}},
{"mark": {"type": "tick", "color": "#333", "size": 7, "thickness": 1}, "encoding": {"y": {"field": "lo", "type": "quantitative"}}}
]
}
]
}
],
"resolve": {"scale": {"x": "independent", "y": "independent", "color": "independent", "shape": "independent"}},
"config": {
"font": "Liberation Sans",
"view": {"stroke": "#c4c4c4", "strokeWidth": 1},
"title": {"font": "Liberation Sans", "fontSize": 26, "fontWeight": "bold", "color": "#000000"},
"axis": {"labelFont": "Liberation Sans", "labelFontWeight": "bold", "labelFontSize": 18, "labelColor": "#2a2a2a", "labelExpr": "'' + datum.value", "titleFont": "Liberation Sans", "titleColor": "#111", "domain": false, "grid": false, "ticks": true, "tickSize": -4, "tickColor": "#999", "labelPadding": 9, "labelFlush": false, "labelOverlap": false}
}
}
